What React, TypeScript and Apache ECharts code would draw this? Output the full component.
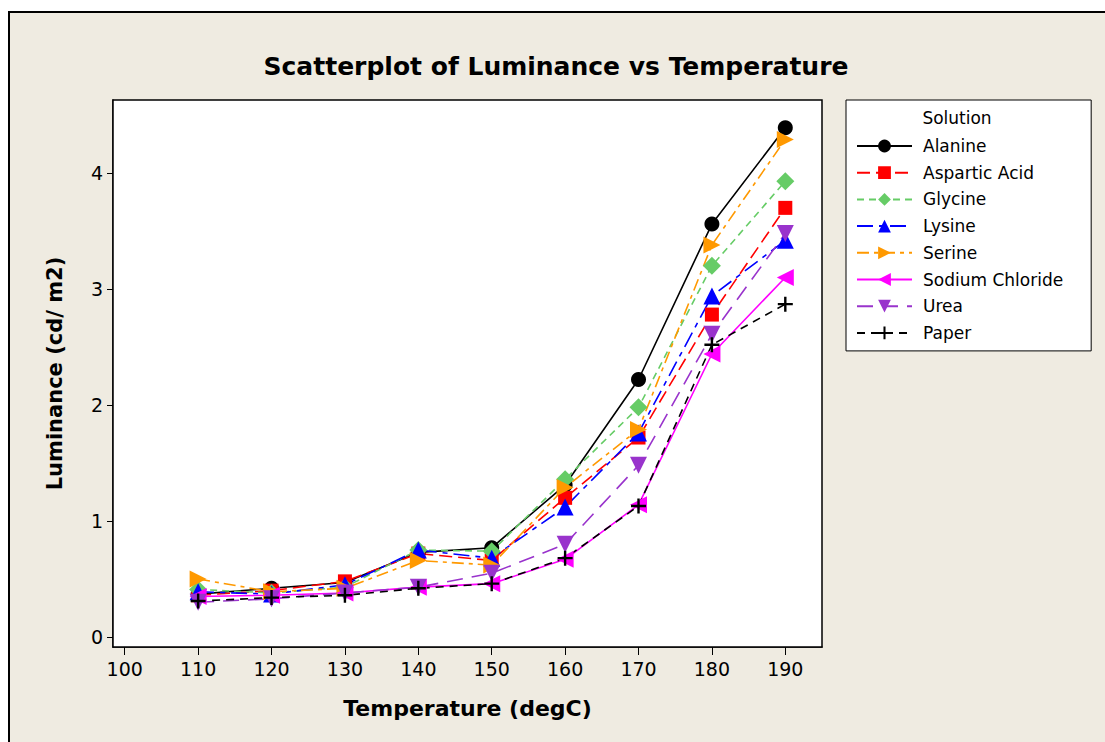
import React, { useEffect, useRef } from "react";
import * as echarts from "echarts";

const temperatures = [110, 120, 130, 140, 150, 160, 170, 180, 190];
const alanine = [0.37, 0.42, 0.47, 0.73, 0.77, 1.31, 2.22, 3.56, 4.39];
const asparticAcid = [0.36, 0.4, 0.48, 0.72, 0.66, 1.2, 1.72, 2.78, 3.7];
const glycine = [0.41, 0.38, 0.43, 0.75, 0.74, 1.36, 1.98, 3.2, 3.93];
const lysine = [0.39, 0.37, 0.45, 0.75, 0.68, 1.12, 1.76, 2.94, 3.42];
const serine = [0.5, 0.39, 0.42, 0.66, 0.62, 1.29, 1.79, 3.38, 4.29];
const sodiumChloride = [0.35, 0.36, 0.38, 0.43, 0.46, 0.67, 1.14, 2.44, 3.1];
const urea = [0.3, 0.33, 0.38, 0.43, 0.55, 0.8, 1.48, 2.61, 3.48];
const paper = [0.31, 0.34, 0.36, 0.42, 0.46, 0.68, 1.13, 2.52, 2.87];

const xTicks = [100, 110, 120, 130, 140, 150, 160, 170, 180, 190];
const yTicks = [0, 1, 2, 3, 4];

const FONT = "DejaVu Sans";
const PLUS =
  "path://M4.2,0 L5.8,0 L5.8,4.2 L10,4.2 L10,5.8 L5.8,5.8 L5.8,10 L4.2,10 L4.2,5.8 L0,5.8 L0,4.2 L4.2,4.2 Z";

type Spec = {
  name: string;
  values: number[];
  color: string;
  dash: number[] | "solid";
  symbol: string;
  size: number;
  rotate?: number;
};

const specs: Spec[] = [
  { name: "Alanine", values: alanine, color: "#000000", dash: "solid", symbol: "circle", size: 15 },
  { name: "Aspartic Acid", values: asparticAcid, color: "#FF0000", dash: [13, 6], symbol: "rect", size: 14 },
  { name: "Glycine", values: glycine, color: "#66CC66", dash: [7, 5], symbol: "diamond", size: 18 },
  { name: "Lysine", values: lysine, color: "#0000FF", dash: [16, 6, 5, 6], symbol: "triangle", size: 17 },
  { name: "Serine", values: serine, color: "#FF9900", dash: [12, 5, 4, 5], symbol: "triangle", size: 17, rotate: -90 },
  { name: "Sodium Chloride", values: sodiumChloride, color: "#FF00FF", dash: "solid", symbol: "triangle", size: 17, rotate: 90 },
  { name: "Urea", values: urea, color: "#9933CC", dash: [16, 9], symbol: "triangle", size: 17, rotate: 180 },
  { name: "Paper", values: paper, color: "#000000", dash: [8, 6], symbol: PLUS, size: 15 },
];

export default function App() {
  const ref = useRef<HTMLDivElement>(null);
  useEffect(() => {
    if (!ref.current) return;
    const chart = echarts.init(ref.current, undefined, { renderer: "svg" });
    const series = specs.map((s) => ({
      name: s.name,
      type: "line",
      data: temperatures.map((t, i) => [t, s.values[i]]),
      symbol: s.symbol,
      symbolSize: s.size,
      symbolRotate: s.rotate ?? 0,
      showAllSymbol: true,
      lineStyle: { color: s.color, width: 1.6, type: s.dash },
      itemStyle: { color: s.color, borderWidth: 0 },
      emphasis: { disabled: true },
      z: 3,
    }));
    chart.setOption({
      animation: false,
      backgroundColor: "#ffffff",
      graphic: [
        {
          type: "rect",
          z: -100,
          shape: { x: 9, y: 12, width: 1200, height: 800 },
          style: { fill: "#EFEBE1", stroke: "#000000", lineWidth: 2 },
        },
        {
          type: "text",
          z: 100,
          x: 556,
          y: 66,
          style: {
            text: "Scatterplot of Luminance vs Temperature",
            font: `bold 25px "${FONT}"`,
            fill: "#000",
            align: "center",
            verticalAlign: "middle",
          },
        },
        {
          type: "text",
          z: 100,
          x: 957,
          y: 118,
          style: {
            text: "Solution",
            font: `17px "${FONT}"`,
            fill: "#000",
            align: "center",
            verticalAlign: "middle",
          },
        },
      ],
      grid: {
        left: 113,
        top: 100,
        width: 709,
        height: 547,
        show: true,
        backgroundColor: "#ffffff",
        borderColor: "#000000",
        borderWidth: 1.5,
        z: 2,
      },
      xAxis: {
        type: "value",
        min: 98.4,
        max: 195,
        name: "Temperature (degC)",
        nameLocation: "middle",
        nameGap: 50,
        nameTextStyle: { fontFamily: FONT, fontWeight: "bold", fontSize: 22, color: "#000" },
        axisLine: { show: true, onZero: false, lineStyle: { color: "#000", width: 1.5 } },
        axisTick: { show: true, customValues: xTicks, length: 8, lineStyle: { color: "#000" } },
        axisLabel: { customValues: xTicks, fontFamily: FONT, fontSize: 19, color: "#000", margin: 12 },
        splitLine: { show: false },
      },
      yAxis: {
        type: "value",
        min: -0.086,
        max: 4.63,
        name: "Luminance (cd/ m2)",
        nameLocation: "middle",
        nameGap: 48,
        nameTextStyle: { fontFamily: FONT, fontWeight: "bold", fontSize: 21, color: "#000" },
        axisLine: { show: true, onZero: false, lineStyle: { color: "#000", width: 1.5 } },
        axisTick: { show: true, customValues: yTicks, length: 6, lineStyle: { color: "#000" } },
        axisLabel: { customValues: yTicks, fontFamily: FONT, fontSize: 19, color: "#000", margin: 10 },
        splitLine: { show: false },
      },
      legend: {
        orient: "vertical",
        left: 846,
        top: 100,
        padding: [37, 28, 9, 10],
        itemGap: 8.7,
        itemWidth: 55,
        itemHeight: 16,
        borderColor: "#000",
        borderWidth: 1,
        backgroundColor: "#ffffff",
        selectedMode: false,
        textStyle: { fontFamily: FONT, fontSize: 17, color: "#000", lineHeight: 18, padding: [0, 0, 0, 6] },
        data: specs.map((s) => s.name),
      },
      series,
    });
    return () => chart.dispose();
  }, []);
  return (
    <div
      ref={ref}
      style={{ position: "fixed", left: 0, top: 0, width: 1105, height: 742 }}
    />
  );
}
